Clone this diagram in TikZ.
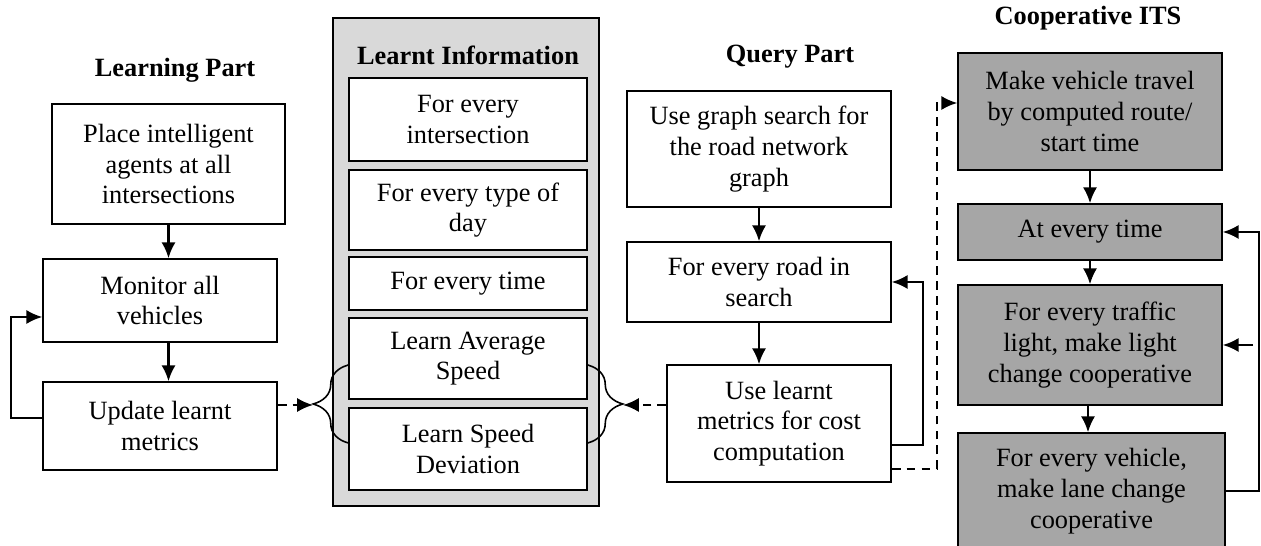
\documentclass[tikz,border=0pt]{standalone}
\usepackage{fontspec}
\setmainfont{Liberation Serif}
\usetikzlibrary{arrows.meta,decorations.pathreplacing}
\definecolor{P}{RGB}{217, 217, 217}
\definecolor{D}{RGB}{166, 166, 166}

\tikzset{
  box/.style={draw, line width=0.9pt, fill=white, inner sep=0pt, align=center,
    font=\fontsize{15}{17.5}\selectfont},
  gbox/.style={box, fill=D},
  ttl/.style={font=\fontsize{15}{17.5}\selectfont\bfseries},
  arr/.style={line width=1.2pt, -{Latex[length=9pt,width=8pt]}},
  darr/.style={arr, dash pattern=on 5pt off 3.5pt},
  brc/.style={decorate, line width=0.9pt, decoration={brace, amplitude=0.7cm}}
}

\begin{document}
\begin{tikzpicture}[x=0.02cm, y=-0.02cm]
	\useasboundingbox (0,0) rectangle (1261,546);
	% learning part
	\node[ttl] (tlearn) at (175,70) {Learning Part};
	\node[box, minimum width=4.66cm, minimum height=2.4cm] (place) at (168.5,164) {Place intelligent\\agents at all\\intersections};
	\node[box, minimum width=4.68cm, minimum height=1.66cm] (monitor) at (160,300.5) {Monitor all\\vehicles};
	\node[box, minimum width=4.68cm, minimum height=1.76cm] (update) at (160,426) {Update learnt\\metrics};
	\draw[arr] (place.south) -- (place.south |- monitor.north);
	\draw[arr] (place.south |- monitor.south) -- (place.south |- update.north);
	\draw[arr] ([yshift=0.16cm]update.west) -- ++(-31,0) |- ([yshift=-0.33cm]monitor.west);

	% learnt information
	\node[draw, line width=1pt, fill=P, minimum width=5.32cm, minimum height=9.76cm] (panel) at (466,262) {};
	\node[ttl] (tinfo) at (468,55) {Learnt Information};
	\node[box, minimum width=4.76cm, minimum height=1.66cm] (inter) at (468,119.5) {For every\\intersection};
	\node[box, minimum width=4.76cm, minimum height=1.6cm] (daytype) at (468,210) {For every type of\\day};
	\node[box, minimum width=4.76cm, minimum height=1.06cm] (time) at (468,283.5) {For every time};
	\node[box, minimum width=4.76cm, minimum height=1.62cm] (avg) at (468,358.5) {Learn Average\\Speed};
	\node[box, minimum width=4.76cm, minimum height=1.64cm] (dev) at (468,449) {Learn Speed\\Deviation};
	\draw[brc] (avg.west |- 0,443) -- (avg.west |- 0,365);
	\draw[brc] (avg.east |- 0,365) -- (avg.east |- 0,443);
	\coordinate (ltip) at (313,405);
	\coordinate (rtip) at (623,405);
	\draw[darr] (update.east |- ltip) -- (ltip);

	% query part
	\node[ttl] (tquery) at (790,57) {Query Part};
	\node[box, minimum width=5.28cm, minimum height=2.32cm] (search) at (759,149) {Use graph search for\\the road network\\graph};
	\node[box, minimum width=5.28cm, minimum height=1.6cm] (road) at (759,282) {For every road in\\search};
	\node[box, minimum width=4.48cm, minimum height=2.34cm] (uselearn) at (779,423.5) {Use learnt\\metrics for cost\\computation};
	\draw[arr] (search.south) -- (road.north);
	\draw[arr] (road.south) -- (road.south |- uselearn.north);
	\draw[arr] ([yshift=-0.43cm]uselearn.east) -- ++(31,0) |- (road.east);
	\draw[darr] (rtip -| uselearn.west) -- (rtip);

	% cooperative ITS
	\node[ttl] (tcoop) at (1088,18) {Cooperative ITS};
	\node[gbox, minimum width=5.28cm, minimum height=2.34cm] (make) at (1090,111.5) {Make vehicle travel\\by computed route/\\start time};
	\node[gbox, minimum width=5.28cm, minimum height=1.12cm] (every) at (1090,232) {At every time};
	\node[gbox, minimum width=5.28cm, minimum height=2.4cm] (light) at (1090,345) {For every traffic\\light, make light\\change cooperative};
	\node[gbox, minimum width=5.34cm, minimum height=2.32cm] (vehicle) at (1091.5,491) {For every vehicle,\\make lane change\\cooperative};
	\coordinate (loopx) at (1259,0);
	\draw[arr] (make.south) -- (every.north);
	\draw[arr] (every.south) -- (light.north);
	\draw[arr] ([xshift=-0.04cm]light.south) -- ([xshift=-0.04cm]light.south |- vehicle.north);
	\draw[arr] (vehicle.east) -- (vehicle.east -| loopx) |- (every.east);
	\draw[arr] ([xshift=-0.12cm]light.east -| loopx) -- (light.east);
	\draw[darr] ([yshift=-0.91cm]uselearn.east) -- ++(45,0) |- ([yshift=0.17cm]make.west);
\end{tikzpicture}
\end{document}
